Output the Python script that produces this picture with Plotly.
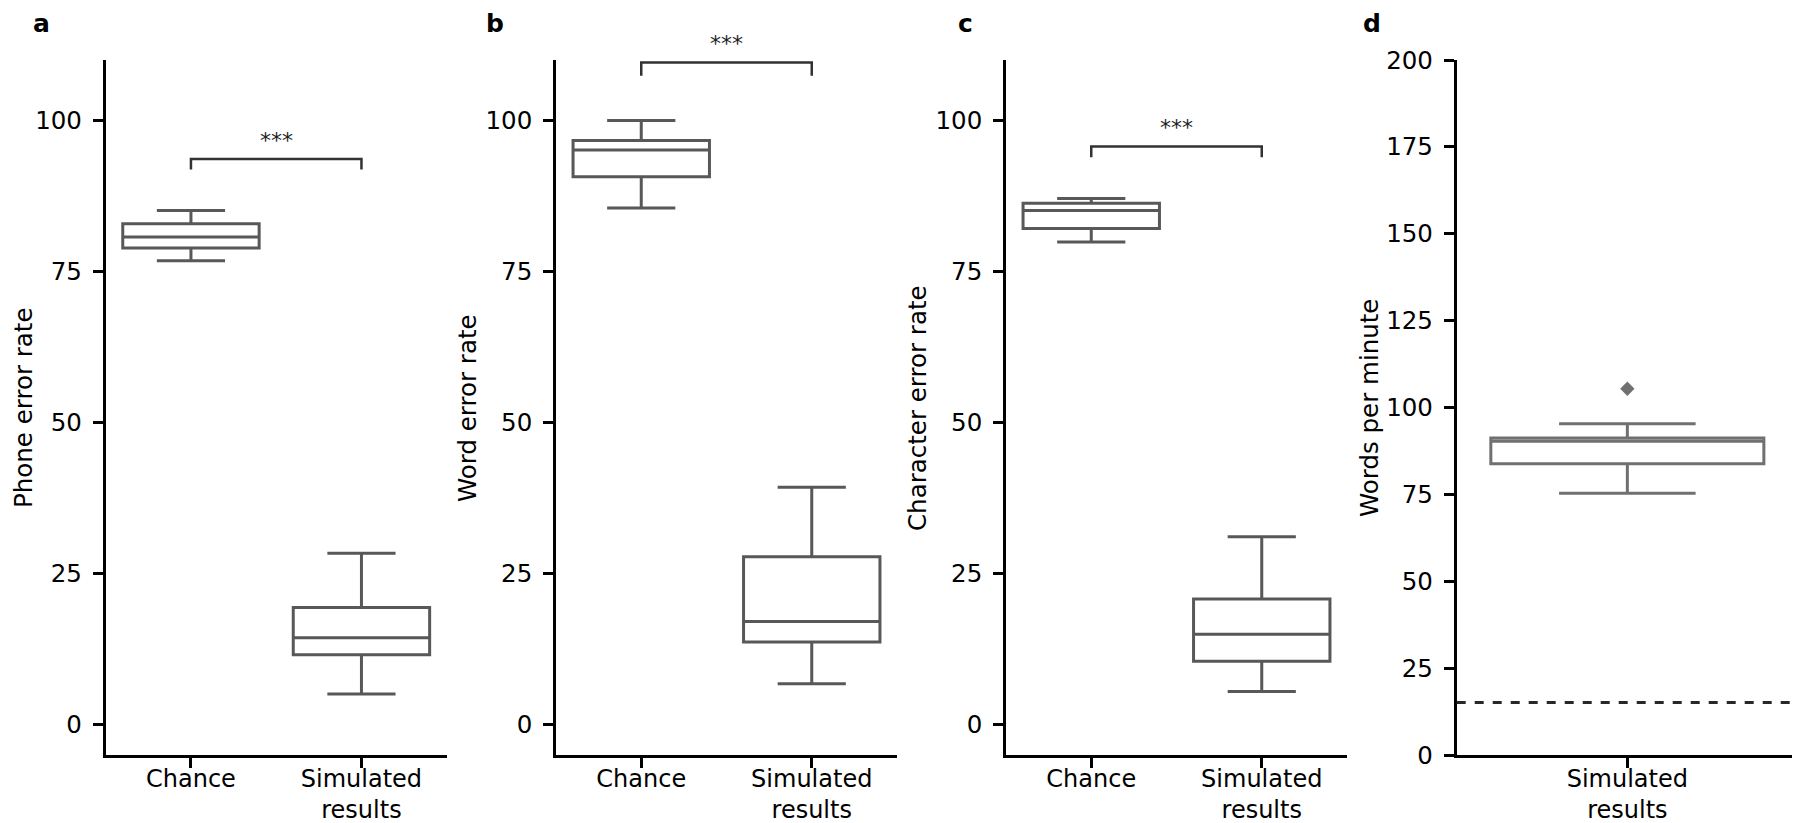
import plotly.graph_objects as go

# ---------------- data ----------------
cats = ["Chance", "Simulated<br>results"]

# panel a: phone error rate
a_low = [76.8, 5.1]
a_q1 = [78.9, 11.6]
a_med = [80.7, 14.4]
a_q3 = [82.9, 19.4]
a_high = [85.1, 28.4]
a_bracket = [91.9, 93.6]

# panel b: word error rate
b_low = [85.5, 6.8]
b_q1 = [90.7, 13.7]
b_med = [95.1, 17.1]
b_q3 = [96.7, 27.8]
b_high = [100.0, 39.3]
b_bracket = [107.4, 109.6]

# panel c: character error rate
c_low = [79.9, 5.5]
c_q1 = [82.1, 10.5]
c_med = [85.1, 15.0]
c_q3 = [86.3, 20.8]
c_high = [87.1, 31.1]
c_bracket = [93.9, 95.7]

# panel d: words per minute
d_cats = ["Simulated<br>results"]
d_low = [75.3]
d_q1 = [83.8]
d_med = [90.3]
d_q3 = [91.2]
d_high = [95.3]
d_outlier = [105.4]
d_baseline = 15.1

sig_label = "***"
panel_letters = ["a", "b", "c", "d"]
y_titles = ["Phone error rate", "Word error rate", "Character error rate", "Words per minute"]

# ---------------- layout helpers ----------------
# the page body has an 8px margin, so the figure is drawn 8px in from the top-left
OFF = 8
W, H = 1800 - OFF, 823 - OFF
FONT = "DejaVu Sans"
FS = 24.5
BOX_COLOR = "rgb(88,88,88)"
BOX_COLOR_D = "rgb(112,112,112)"
BRACKET_COLOR = "rgb(50,50,50)"


def px_x(p):
    return (p - OFF) / W


def px_y(p):
    return 1 - (p - OFF) / H


x_domains = [
    [px_x(105.7), px_x(446.7)],
    [px_x(556.0), px_x(897.0)],
    [px_x(1006.0), px_x(1347.0)],
    [px_x(1456.7), px_x(1798.0)],
]
y_domain = [px_y(755), px_y(60)]

fig = go.Figure()


def ax(idx, letter):
    return letter if idx == 1 else f"{letter}{idx}"


def add_box(idx, x, low, q1, med, q3, high, color):
    fig.add_trace(go.Box(
        x=x, q1=q1, median=med, q3=q3, lowerfence=low, upperfence=high,
        width=0.8, whiskerwidth=0.5,
        fillcolor="white", line=dict(color=color, width=3),
        boxpoints=False, showlegend=False, hoverinfo="skip",
        xaxis=ax(idx, "x"), yaxis=ax(idx, "y"),
    ))


def add_bracket(idx, br):
    fig.add_trace(go.Scatter(
        x=[cats[0], cats[0], cats[1], cats[1]],
        y=[br[0], br[1], br[1], br[0]],
        mode="lines", line=dict(color=BRACKET_COLOR, width=2.5),
        showlegend=False, hoverinfo="skip",
        xaxis=ax(idx, "x"), yaxis=ax(idx, "y"),
    ))
    fig.add_annotation(
        x=0.5, y=br[1], xref=ax(idx, "x"), yref=ax(idx, "y"),
        text=sig_label, showarrow=False, yanchor="bottom", yshift=4,
        font=dict(family=FONT, size=22, color="rgb(30,30,30)"),
    )


add_box(1, cats, a_low, a_q1, a_med, a_q3, a_high, BOX_COLOR)
add_bracket(1, a_bracket)
add_box(2, cats, b_low, b_q1, b_med, b_q3, b_high, BOX_COLOR)
add_bracket(2, b_bracket)
add_box(3, cats, c_low, c_q1, c_med, c_q3, c_high, BOX_COLOR)
add_bracket(3, c_bracket)
add_box(4, d_cats, d_low, d_q1, d_med, d_q3, d_high, BOX_COLOR_D)
fig.add_trace(go.Scatter(
    x=d_cats, y=d_outlier, mode="markers",
    marker=dict(symbol="diamond", size=11, color=BOX_COLOR_D),
    showlegend=False, hoverinfo="skip", xaxis="x4", yaxis="y4",
))
fig.add_shape(type="line", xref="x4 domain", yref="y4", x0=0, x1=1,
              y0=d_baseline, y1=d_baseline,
              line=dict(color="rgb(40,40,40)", width=3, dash="dash"))

axis_common = dict(
    showline=True, linecolor="black", linewidth=2.7,
    ticks="outside", ticklen=10, tickwidth=2.7, tickcolor="black",
    showgrid=False, zeroline=False, automargin=False,
    tickfont=dict(family=FONT, size=FS, color="black"),
    fixedrange=True,
)

layout = dict(
    template="none",
    width=W, height=H,
    margin=dict(l=0, r=0, t=0, b=0, pad=0),
    paper_bgcolor="white", plot_bgcolor="white",
    showlegend=False,
    font=dict(family=FONT, size=FS, color="black"),
)

for i in range(4):
    xn = "xaxis" if i == 0 else f"xaxis{i+1}"
    yn = "yaxis" if i == 0 else f"yaxis{i+1}"
    if i < 3:
        yr = [-5, 110]
        tv = [0, 25, 50, 75, 100]
        xcats = cats
        xr = [-0.5, 1.5]
    else:
        yr = [0, 200]
        tv = [0, 25, 50, 75, 100, 125, 150, 175, 200]
        xcats = d_cats
        xr = [-0.5, 0.5]
    layout[xn] = dict(axis_common, domain=x_domains[i], anchor=ax(i + 1, "y"),
                      type="category", categoryorder="array", categoryarray=xcats,
                      range=xr, ticklabelstandoff=-10,
                      tickfont=dict(family=FONT, size=24, color="black"))
    layout[yn] = dict(axis_common, domain=y_domain, anchor=ax(i + 1, "x"),
                      range=yr, tickvals=tv, ticklabelstandoff=6)

fig.update_layout(**layout)

# y-axis titles (rotated text placed next to each axis)
title_x = [23.0, 467.0, 917.0, 1369.0]
for tx, ttl in zip(title_x, y_titles):
    fig.add_annotation(
        x=px_x(tx), y=px_y(408), xref="paper", yref="paper",
        text=ttl, showarrow=False, textangle=-90, borderpad=0,
        xanchor="center", yanchor="middle",
        font=dict(family=FONT, size=FS, color="black"),
    )

letter_x = [41.7, 495.0, 965.0, 1371.7]
for lx, letter in zip(letter_x, panel_letters):
    fig.add_annotation(
        x=px_x(lx), y=px_y(23), xref="paper", yref="paper",
        text=f"<b>{letter}</b>", showarrow=False,
        xanchor="center", yanchor="middle",
        font=dict(family=FONT, size=25, color="black"),
    )

fig.write_html("out.html")
